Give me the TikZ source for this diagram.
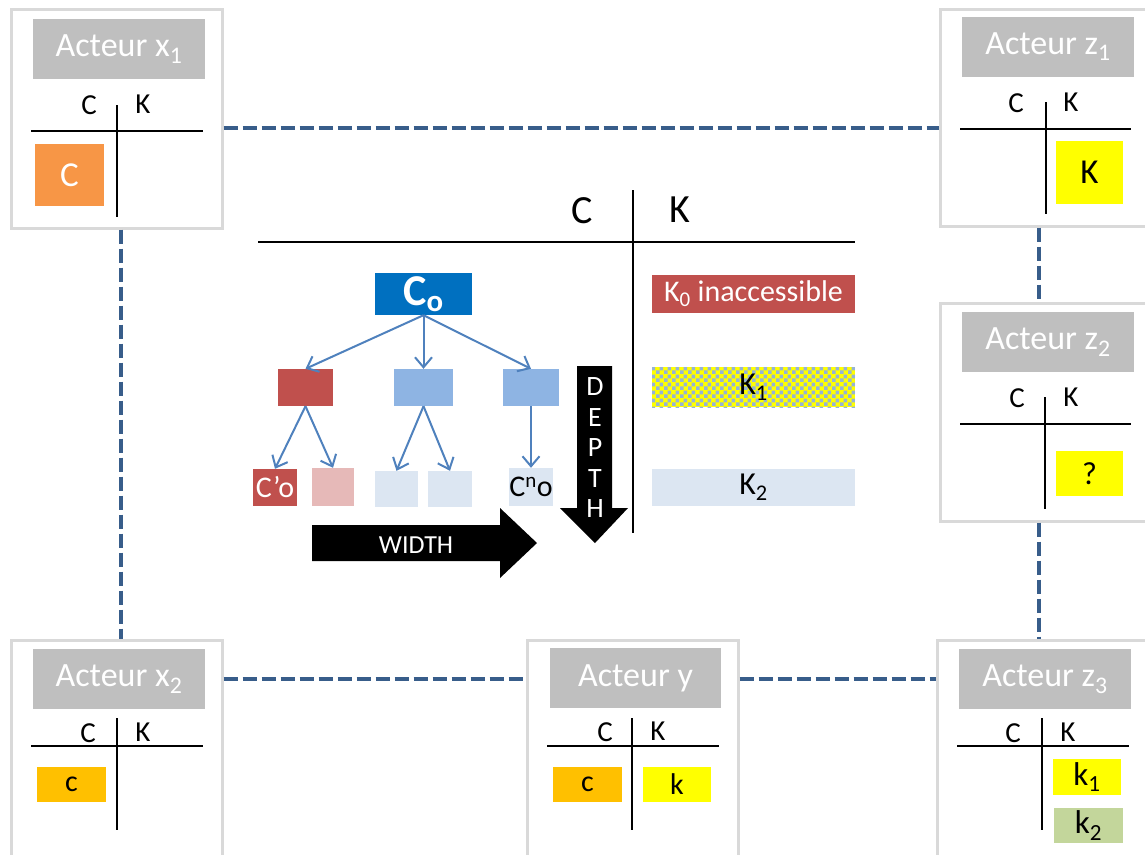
\documentclass[tikz,border=0pt]{standalone}
\usepackage{fontspec}
\setmainfont{Carlito}
\usetikzlibrary{arrows.meta,patterns.meta}
\definecolor{bordergray}{HTML}{D9D9D9}
\definecolor{titlegray}{HTML}{BFBFBF}
\definecolor{dashblue}{HTML}{385D8A}
\definecolor{orangeC}{HTML}{F79646}
\definecolor{goldc}{HTML}{FFC000}
\definecolor{yelk}{HTML}{FFFF00}
\definecolor{greenk}{HTML}{C3D69B}
\definecolor{redbox}{HTML}{C0504D}
\definecolor{bluebox}{HTML}{0070C0}
\definecolor{midblue}{HTML}{8EB4E3}
\definecolor{paleblue}{HTML}{DCE6F2}
\definecolor{pinkbox}{HTML}{E6B9B8}
\definecolor{arrowblue}{HTML}{4F81BD}
\definecolor{checkblue}{HTML}{95B3D7}
\newcommand\myfs[1]{\fontsize{#1}{#1}\selectfont}
\tikzdeclarepattern{
  name=bigcheck,
  type=uncolored,
  bounding box={(0pt,0pt) and (8pt,8pt)},
  tile size={(8pt,8pt)},
  code={
    \fill (0pt,0pt) rectangle (4pt,4pt);
    \fill (4pt,4pt) rectangle (8pt,8pt);
  }
}
\begin{document}
\begin{tikzpicture}[x=1pt,y=-1pt,
  actorbox/.style={draw=bordergray,line width=3pt,fill=white,inner sep=0pt},
  titlebox/.style={fill=titlegray,text=white,font=\myfs{34},minimum width=172pt,minimum height=60pt,inner sep=0pt},
  cklabel/.style={font=\myfs{29},inner sep=0pt},
  tline/.style={line width=2pt,black},
  cell/.style={inner sep=0pt,font=\myfs{30}},
  dashline/.style={dashblue,line width=4pt,dash pattern=on 14pt off 5pt},
  treebox/.style={inner sep=0pt},
  treearrow/.style={arrowblue,line width=2pt,-{Straight Barb[length=10pt,width=17pt,line width=2pt]}},
  bigarrow/.style={fill=black}
]
\useasboundingbox (0,0) rectangle (1145,854);

% ---------- actor boxes ----------
% x1
\node[actorbox,minimum width=211pt,minimum height=219pt] (x1box) at (116.5,118.5) {};
\node[titlebox] (x1title) at (119,49) {Acteur x\textsubscript{1}};
\node[cklabel] (x1C) at (89,105) {C};
\node[cklabel] (x1K) at (143,104) {K};
\draw[tline] (31,131) -- (203,131);
\draw[tline] (117,105) -- (117,217);
\node[cell,fill=orangeC,text=white,minimum width=69pt,minimum height=62pt,font=\myfs{35}] (x1c) at (69.5,175) {C};

% z1
\node[actorbox,minimum width=220pt,minimum height=217pt] (z1box) at (1050,117.5) {};
\node[titlebox] (z1title) at (1048,46.5) {Acteur z\textsubscript{1}};
\node[cklabel] (z1C) at (1016,103) {C};
\node[cklabel] (z1K) at (1071,102) {K};
\draw[tline] (960,129) -- (1131,129);
\draw[tline] (1046,102) -- (1046,214);
\node[cell,fill=yelk,minimum width=67pt,minimum height=63pt,font=\myfs{35}] (z1k) at (1089.5,172.5) {K};

% z2
\node[actorbox,minimum width=220pt,minimum height=218pt] (z2box) at (1050,412) {};
\node[titlebox] (z2title) at (1048,342) {Acteur z\textsubscript{2}};
\node[cklabel] (z2C) at (1017,398) {C};
\node[cklabel] (z2K) at (1071,397) {K};
\draw[tline] (960,424) -- (1131,424);
\draw[tline] (1045,397) -- (1045,509);
\node[cell,fill=yelk,minimum width=67pt,minimum height=45pt,font=\myfs{32}] (z2k) at (1089.5,473.5) {?};

% x2
\node[actorbox,minimum width=211pt,minimum height=240pt] (x2box) at (116.5,760) {};
\node[titlebox] (x2title) at (119,679) {Acteur x\textsubscript{2}};
\node[cklabel] (x2C) at (88,733) {C};
\node[cklabel] (x2K) at (143,732) {K};
\draw[tline] (31,746) -- (203,746);
\draw[tline] (117,718) -- (117,830);
\node[cell,fill=goldc,minimum width=69pt,minimum height=35pt] (x2c) at (71.5,784.5) {c};

% y
\node[actorbox,minimum width=211pt,minimum height=240pt] (ybox) at (632.5,760) {};
\node[titlebox,minimum width=171pt] (ytitle) at (635.5,678) {Acteur y};
\node[cklabel] (yC) at (605,732) {C};
\node[cklabel] (yK) at (658,731) {K};
\draw[tline] (547,746) -- (719,746);
\draw[tline] (632,718) -- (632,830);
\node[cell,fill=goldc,minimum width=69pt,minimum height=35pt] (yc) at (587.5,784.5) {c};
\node[cell,fill=yelk,minimum width=68pt,minimum height=35pt] (yk) at (677,784.5) {k};

% z3
\node[actorbox,minimum width=223pt,minimum height=240pt] (z3box) at (1048.5,760) {};
\node[titlebox] (z3title) at (1045,679) {Acteur z\textsubscript{3}};
\node[cklabel] (z3C) at (1013,733) {C};
\node[cklabel] (z3K) at (1068,732) {K};
\draw[tline] (957,746) -- (1129,746);
\draw[tline] (1042,718) -- (1042,830);
\node[cell,fill=yelk,minimum width=68pt,minimum height=36pt,font=\myfs{33}] (z3k1) at (1087,777) {k\textsubscript{1}};
\node[cell,fill=greenk,minimum width=69pt,minimum height=35pt,font=\myfs{33}] (z3k2) at (1088.5,825.5) {k\textsubscript{2}};

% ---------- dashed links ----------
\draw[dashline] (x1box.east |- 0,128) -- (z1box.west |- 0,128);
\draw[dashline] (x1box.south -| 121,0) -- (x2box.north -| 121,0);
\draw[dashline] (z1box.south -| 1039,0) -- (z2box.north -| 1039,0);
\draw[dashline] (z2box.south -| 1039,0) -- (z3box.north -| 1039,0);
\draw[dashline] (x2box.east |- 0,679) -- (ybox.west |- 0,679);
\draw[dashline] (ybox.east |- 0,679) -- (z3box.west |- 0,679);

% ---------- central C | K table ----------
\node[inner sep=0pt,font=\myfs{40}] (bigC) at (582,211) {C};
\node[inner sep=0pt,font=\myfs{40}] (bigK) at (680,210) {K};
\draw[tline] (258,242) -- (855,242);
\draw[tline] (633,190) -- (633,533);

% tree
\node[treebox,fill=bluebox,text=white,minimum width=97pt,minimum height=42pt,font=\myfs{44}\bfseries] (co) at (423.5,294) {\raisebox{2pt}{C\textsubscript{o}}};
\node[treebox,fill=redbox,minimum width=55pt,minimum height=37pt] (r1) at (305.5,387.5) {};
\node[treebox,fill=midblue,minimum width=59pt,minimum height=37pt] (b1) at (423.5,387.5) {};
\node[treebox,fill=midblue,minimum width=56pt,minimum height=37pt] (b2) at (531,387.5) {};
\node[treebox,fill=redbox,text=white,minimum width=44pt,minimum height=37pt,font=\myfs{30}] (c1) at (275,487.5) {C’o};
\node[treebox,fill=pinkbox,minimum width=42pt,minimum height=38pt] (p1) at (333,487) {};
\node[treebox,fill=paleblue,minimum width=43pt,minimum height=36pt] (l1) at (396.5,489) {};
\node[treebox,fill=paleblue,minimum width=44pt,minimum height=36pt] (l2) at (450,489) {};
\node[treebox,fill=paleblue,minimum width=44pt,minimum height=38pt,font=\myfs{30}] (cn) at (531,487) {C\textsuperscript{n}o};

\draw[treearrow] (co.south) -- (r1.north);
\draw[treearrow] (co.south) -- (b1.north);
\draw[treearrow] (co.south) -- (b2.north);
\draw[treearrow] (r1.south) -- (c1.north);
\draw[treearrow] (r1.south) -- (p1.north);
\draw[treearrow] (b1.south) -- (l1.north);
\draw[treearrow] (b1.south) -- (l2.north);
\draw[treearrow] (b2.south) -- (cn.north);

% big arrows
\fill[bigarrow] (312,525) -- (500,525) -- (500,508) -- (537,543) -- (500,578) -- (500,561) -- (312,561) -- cycle;
\node[inner sep=0pt,text=white,font=\myfs{26}] (width) at (416,545) {WIDTH};
\fill[bigarrow] (577,366) -- (612,366) -- (612,508) -- (628,508) -- (595,543) -- (560,508) -- (577,508) -- cycle;
\node[inner sep=0pt,text=white,font=\fontsize{28}{30.5}\selectfont,align=center] (depth) at (595,448) {D\\E\\P\\T\\H};

% K column
\node[treebox,fill=redbox,text=white,minimum width=203pt,minimum height=38pt,font=\myfs{30}] (k0) at (753.5,294) {K\textsubscript{0} inaccessible};
\node[treebox,preaction={fill=yelk},pattern=bigcheck,pattern color=checkblue,minimum width=203pt,minimum height=40pt] (k1box) at (753.5,387) {};
\node[inner sep=0pt,font=\myfs{32}] (k1) at (k1box) {K\textsubscript{1}};
\node[treebox,fill=paleblue,minimum width=203pt,minimum height=37pt,font=\myfs{32}] (k2) at (753.5,487.5) {K\textsubscript{2}};
\end{tikzpicture}
\end{document}
